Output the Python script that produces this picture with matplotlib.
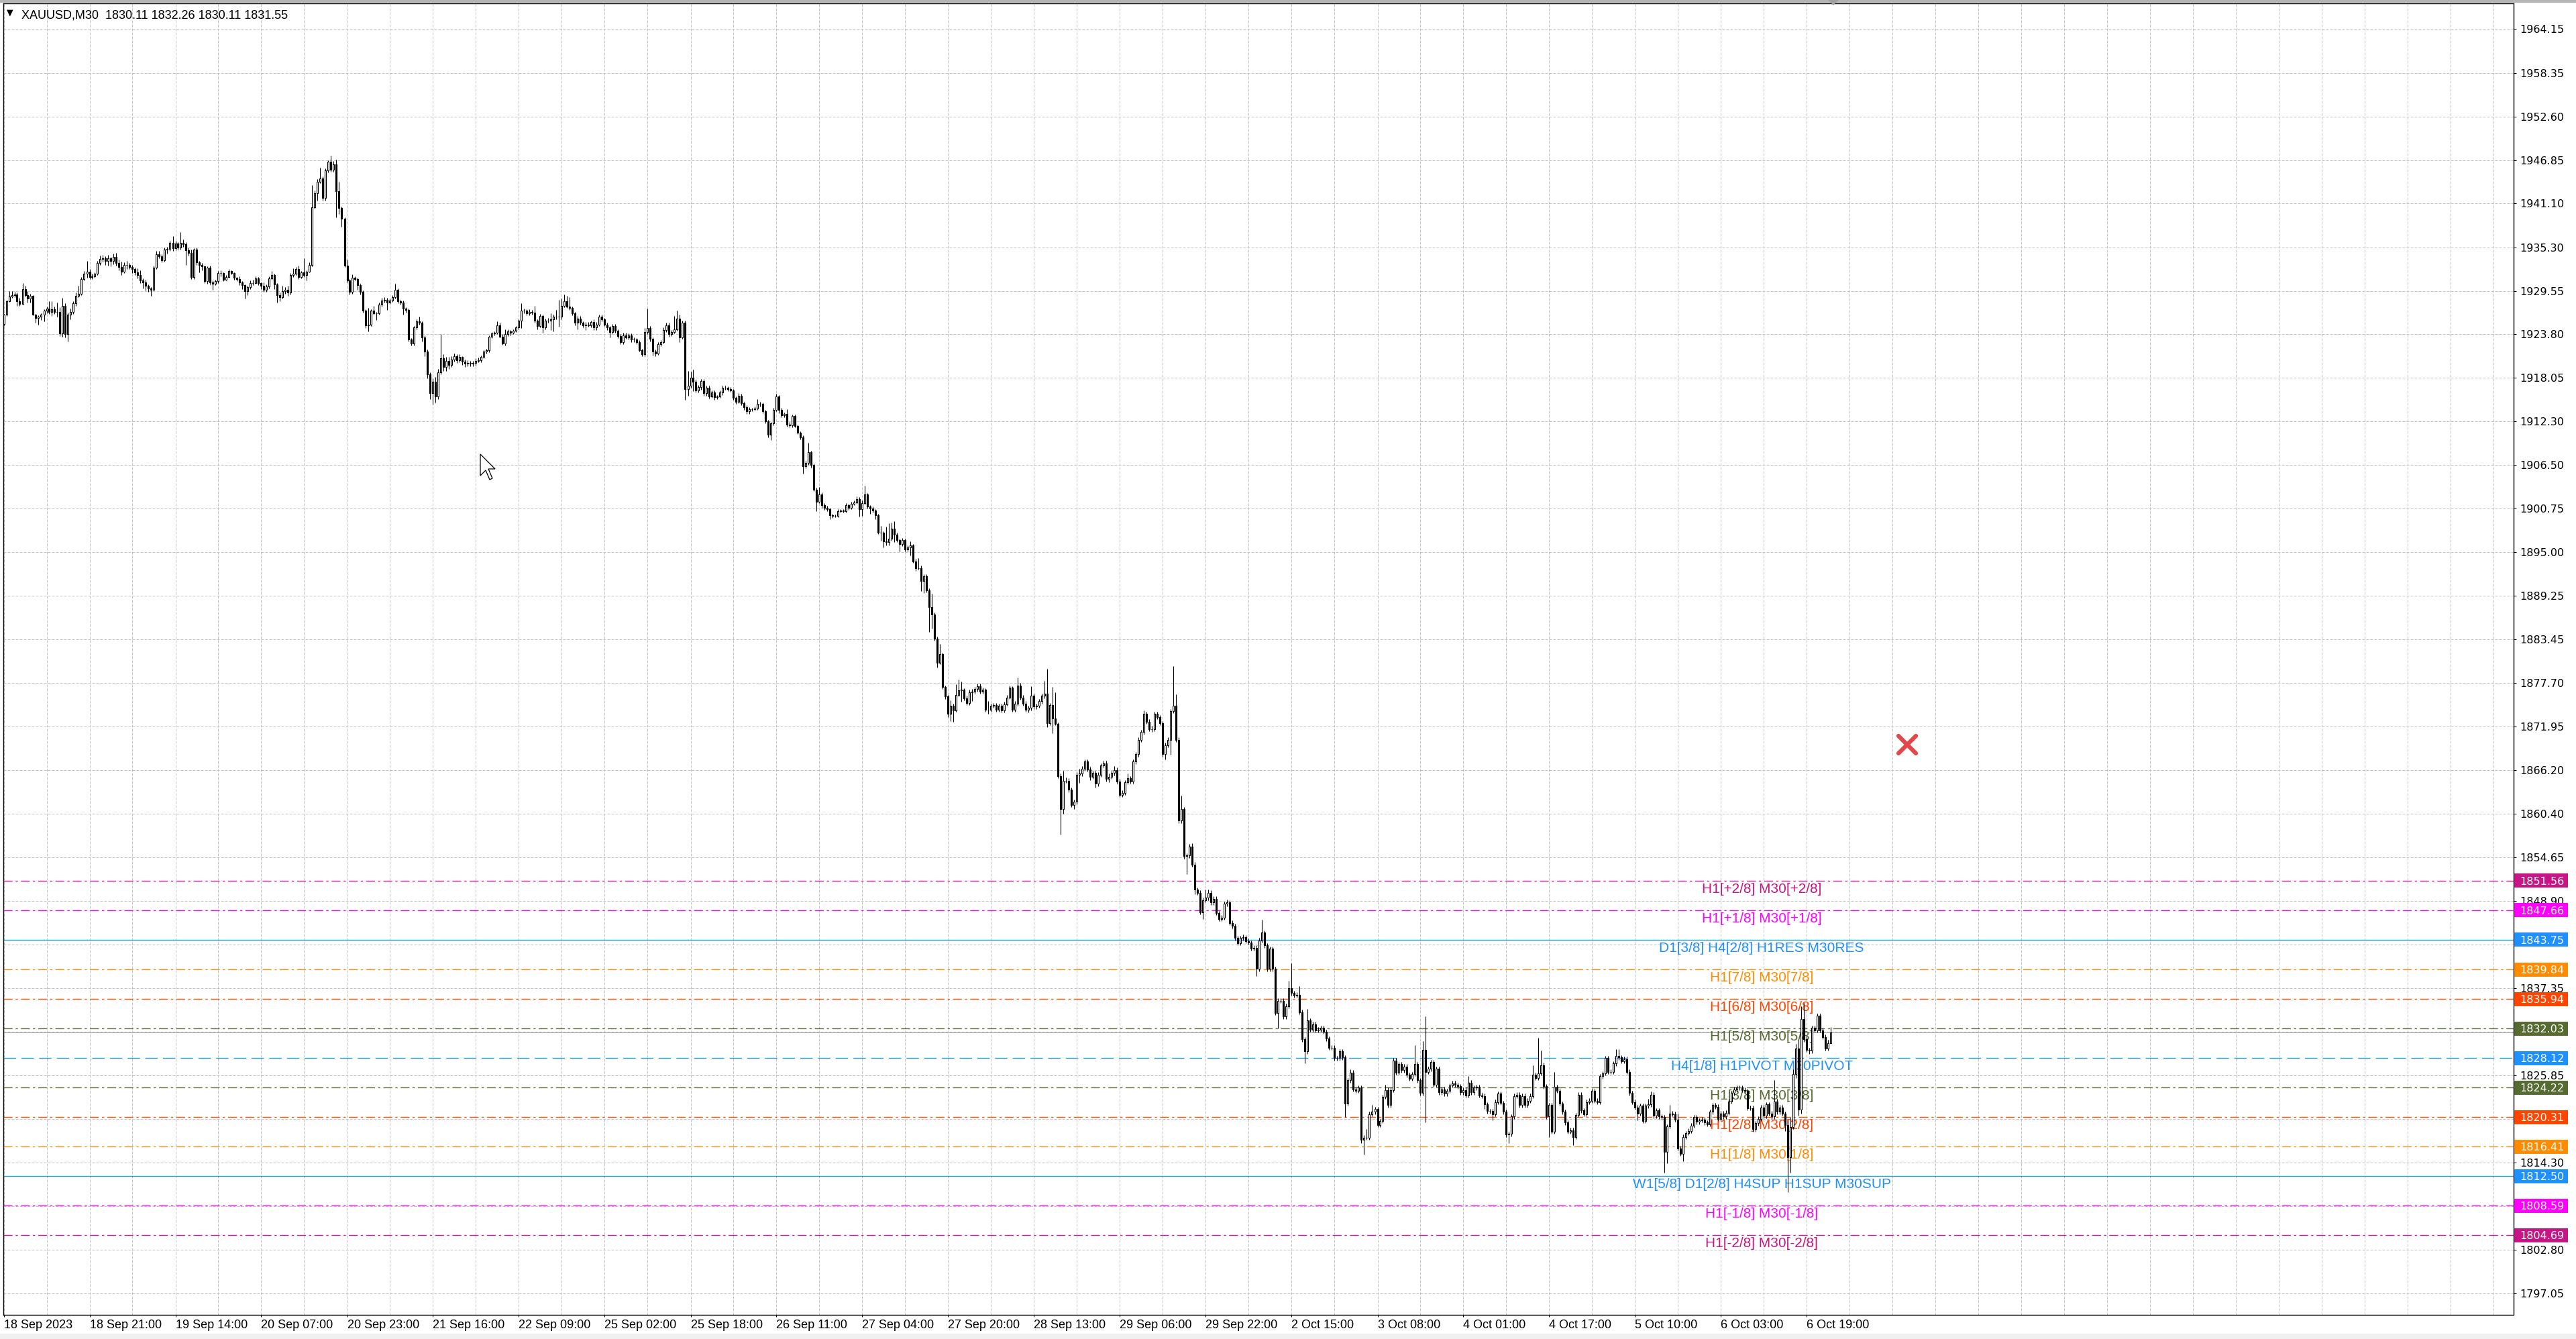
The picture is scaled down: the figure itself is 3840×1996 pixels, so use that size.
import matplotlib
matplotlib.use("Agg")
import matplotlib.pyplot as plt
import numpy as np
from matplotlib import font_manager
from matplotlib.lines import Line2D
from matplotlib.patches import Polygon, Rectangle
from matplotlib.transforms import IdentityTransform

# XAUUSD M30, 18 Sep - 6 Oct 2023
title = "XAUUSD,M30  1830.11 1832.26 1830.11 1831.55"
first_open = 1925.2
bid = 1831.55

close = [
    1926.4, 1928.2, 1928.8, 1929.0, 1929.1, 1928.2, 1927.8, 1929.8, 1929.0, 1928.5,  # 0
    1928.9, 1926.4, 1926.0, 1926.1, 1926.4, 1926.9, 1927.2, 1926.8, 1927.1, 1926.8,
    1926.8, 1923.9, 1927.6, 1923.8, 1926.4, 1926.8, 1927.9, 1928.9, 1929.2, 1931.1,
    1931.8, 1932.1, 1931.4, 1931.5, 1931.8, 1933.2, 1933.8, 1933.9, 1933.5, 1933.9,
    1933.5, 1934.0, 1933.2, 1932.7, 1932.1, 1933.0, 1933.0, 1932.7, 1932.4, 1932.0,
    1931.6, 1930.9, 1930.7, 1930.2, 1929.9, 1929.7, 1932.6, 1934.4, 1934.1, 1933.6,  # 50
    1935.0, 1935.1, 1935.9, 1935.2, 1935.8, 1935.3, 1935.9, 1935.7, 1934.9, 1934.6,
    1931.4, 1935.0, 1933.3, 1933.0, 1932.8, 1930.8, 1932.6, 1930.7, 1930.5, 1930.8,
    1931.9, 1931.9, 1931.0, 1931.4, 1932.2, 1931.9, 1931.3, 1931.1, 1930.7, 1930.3,
    1929.5, 1930.0, 1930.6, 1930.6, 1931.2, 1930.6, 1930.2, 1929.7, 1930.1, 1931.2,
    1931.6, 1930.4, 1929.0, 1928.7, 1929.5, 1929.7, 1929.3, 1931.6, 1931.8, 1932.4,  # 100
    1931.4, 1932.0, 1931.6, 1932.1, 1933.0, 1940.6, 1942.5, 1944.0, 1944.4, 1941.8,
    1945.5, 1946.6, 1945.6, 1946.3, 1942.7, 1940.5, 1939.1, 1932.9, 1930.9, 1929.4,
    1931.3, 1931.1, 1930.3, 1929.4, 1926.9, 1925.0, 1925.1, 1926.9, 1926.6, 1926.6,
    1927.7, 1928.3, 1928.4, 1928.0, 1928.3, 1928.7, 1929.7, 1928.2, 1928.0, 1927.2,
    1927.0, 1923.1, 1922.6, 1924.7, 1925.5, 1925.3, 1923.4, 1921.5, 1918.5, 1916.0,  # 150
    1917.5, 1915.6, 1918.8, 1920.6, 1919.5, 1920.3, 1919.8, 1920.5, 1920.9, 1920.4,
    1920.8, 1920.2, 1919.9, 1920.0, 1919.9, 1920.0, 1920.3, 1920.4, 1920.8, 1921.5,
    1921.7, 1923.5, 1923.9, 1924.0, 1925.0, 1923.5, 1922.6, 1923.8, 1924.2, 1924.0,
    1924.3, 1924.7, 1925.6, 1926.9, 1926.9, 1926.6, 1926.8, 1926.7, 1925.6, 1924.9,
    1926.2, 1924.7, 1925.6, 1925.6, 1925.8, 1926.1, 1926.1, 1926.1, 1927.6, 1928.2,  # 200
    1927.5, 1927.3, 1926.6, 1925.3, 1925.9, 1925.3, 1925.0, 1925.1, 1925.0, 1925.4,
    1924.7, 1925.1, 1926.1, 1925.8, 1925.1, 1924.7, 1924.1, 1924.9, 1924.3, 1923.6,
    1922.8, 1923.7, 1923.4, 1923.7, 1923.1, 1923.1, 1922.8, 1921.7, 1921.2, 1924.1,
    1924.6, 1923.2, 1921.5, 1921.3, 1922.5, 1922.8, 1924.4, 1925.0, 1923.8, 1924.1,
    1924.5, 1925.9, 1923.4, 1925.3, 1916.6, 1917.0, 1918.1, 1917.5, 1916.4, 1916.8,  # 250
    1917.6, 1916.0, 1916.7, 1915.6, 1916.1, 1915.5, 1915.6, 1916.1, 1916.7, 1916.7,
    1916.6, 1916.4, 1915.4, 1914.9, 1915.7, 1914.7, 1914.2, 1913.6, 1913.9, 1913.9,
    1914.0, 1914.6, 1914.6, 1913.6, 1912.3, 1910.5, 1912.0, 1913.8, 1915.6, 1913.8,
    1913.1, 1913.3, 1911.9, 1911.8, 1913.0, 1911.7, 1910.8, 1910.2, 1906.4, 1906.8,
    1908.2, 1906.5, 1903.3, 1901.7, 1902.6, 1901.2, 1900.9, 1900.7, 1899.9, 1899.8,  # 300
    1899.8, 1900.4, 1900.5, 1900.4, 1901.2, 1900.9, 1901.4, 1901.6, 1902.0, 1900.7,
    1901.5, 1902.6, 1901.0, 1900.8, 1900.5, 1899.9, 1897.6, 1897.6, 1896.4, 1896.3,
    1896.8, 1898.1, 1897.3, 1896.6, 1896.1, 1896.6, 1895.4, 1895.6, 1895.9, 1893.8,
    1892.9, 1892.9, 1891.2, 1891.8, 1890.0, 1887.7, 1886.8, 1883.6, 1880.4, 1881.5,
    1877.2, 1875.9, 1873.6, 1874.7, 1874.1, 1876.1, 1876.7, 1876.8, 1875.7, 1875.1,  # 350
    1876.5, 1876.6, 1876.9, 1877.3, 1876.6, 1876.8, 1874.2, 1874.2, 1874.7, 1874.8,
    1874.2, 1874.7, 1874.1, 1874.9, 1875.8, 1877.1, 1874.2, 1875.0, 1877.4, 1875.8,
    1875.0, 1874.2, 1874.4, 1876.0, 1874.6, 1874.7, 1875.3, 1876.0, 1876.3, 1872.4,
    1874.8, 1873.0, 1872.3, 1865.4, 1861.0, 1864.8, 1864.8, 1863.6, 1861.6, 1862.0,
    1865.6, 1865.7, 1866.4, 1867.3, 1866.3, 1865.3, 1865.8, 1864.4, 1865.6, 1866.8,  # 400
    1867.1, 1865.0, 1865.3, 1865.8, 1866.2, 1864.7, 1862.9, 1863.2, 1864.6, 1865.1,
    1864.7, 1867.3, 1868.3, 1870.2, 1871.2, 1873.6, 1872.6, 1871.6, 1871.6, 1873.6,
    1873.2, 1872.4, 1868.3, 1869.5, 1870.2, 1874.0, 1874.7, 1870.2, 1859.5, 1861.0,
    1854.8, 1854.9, 1856.1, 1853.7, 1850.4, 1850.0, 1847.4, 1849.0, 1849.3, 1850.0,
    1848.7, 1849.2, 1847.3, 1846.5, 1846.7, 1848.5, 1848.7, 1846.0, 1845.6, 1844.0,  # 450
    1843.3, 1844.0, 1844.1, 1843.6, 1843.4, 1842.6, 1842.7, 1839.9, 1843.7, 1844.7,
    1843.0, 1839.9, 1842.6, 1839.9, 1834.1, 1835.7, 1835.7, 1833.6, 1835.0, 1837.4,
    1836.7, 1836.4, 1836.5, 1834.2, 1830.6, 1829.0, 1833.1, 1831.9, 1832.6, 1831.8,
    1831.9, 1832.1, 1831.6, 1830.7, 1829.5, 1829.5, 1828.1, 1828.1, 1829.0, 1828.2,
    1822.1, 1825.2, 1826.2, 1824.0, 1823.8, 1824.2, 1817.3, 1817.6, 1817.6, 1820.7,  # 500
    1821.0, 1821.4, 1819.3, 1819.8, 1823.0, 1823.9, 1821.9, 1823.9, 1827.8, 1826.2,
    1827.3, 1826.5, 1827.0, 1825.9, 1825.4, 1826.0, 1827.3, 1825.2, 1823.5, 1829.2,
    1826.3, 1826.7, 1827.6, 1824.6, 1826.7, 1823.6, 1824.0, 1823.4, 1823.8, 1824.5,
    1824.8, 1824.6, 1824.4, 1823.6, 1823.9, 1823.2, 1824.9, 1823.6, 1824.2, 1824.3,
    1823.2, 1823.1, 1822.0, 1821.1, 1821.1, 1820.7, 1822.3, 1823.4, 1822.2, 1821.0,  # 550
    1818.0, 1818.1, 1820.4, 1823.1, 1823.3, 1821.9, 1823.1, 1821.9, 1822.5, 1823.1,
    1825.9, 1825.5, 1826.1, 1827.2, 1824.4, 1820.4, 1821.9, 1818.4, 1824.3, 1823.8,
    1822.1, 1821.0, 1819.6, 1818.4, 1818.6, 1817.7, 1820.6, 1823.3, 1821.2, 1820.7,
    1822.3, 1822.5, 1823.8, 1822.5, 1822.3, 1825.7, 1826.1, 1828.1, 1826.3, 1826.3,
    1827.4, 1828.4, 1828.2, 1827.7, 1828.0, 1826.3, 1823.5, 1822.3, 1821.6, 1820.8,  # 600
    1821.8, 1819.8, 1821.8, 1822.0, 1823.3, 1820.5, 1821.2, 1820.4, 1820.3, 1815.7,
    1819.1, 1820.8, 1820.7, 1820.0, 1816.2, 1815.5, 1817.7, 1818.2, 1818.5, 1819.2,
    1820.3, 1819.7, 1819.9, 1820.0, 1819.6, 1819.4, 1821.0, 1821.9, 1821.7, 1820.1,
    1820.8, 1820.4, 1820.9, 1822.4, 1823.5, 1824.0, 1824.2, 1824.2, 1823.9, 1823.8,
    1821.5, 1821.5, 1818.7, 1819.5, 1820.1, 1821.6, 1820.5, 1822.0, 1820.8, 1820.4,  # 650
    1822.4, 1821.0, 1821.6, 1820.8, 1819.3, 1815.0, 1819.0, 1826.0, 1829.4, 1821.3,
    1833.3, 1830.6, 1829.2, 1829.1, 1832.1, 1831.8, 1833.7, 1831.8, 1830.9, 1829.4,
    1830.11, 1831.55,
]

# wick length above the body / below the body, in dollars
wick_up = [
    .1, .2, .7, .5, .3, .2, .4, .8, .4, .5,  .3, .1, .1, .2, .2, .2, .3, 1.0, 1.1, .4,
    1.2, .6, 1.0, .3, .3, .4, .3, .4, 1.0, .3,  .4, 1.4, .3, .3, .2, .3, .4, .4, .2, .4,
    .1, .5, .6, .5, .7, .3, .5, .2, .3, .2,  .5, .7, .3, .3, .2, .1, .3, .4, .4, .3,
    .3, .3, .3, .9, .4, .2, 1.4, .4, .3, .4,  .4, .2, .3, .2, .2, .1, .2, .3, .2, .2,
    .3, .4, .1, .2, .2, .1, .1, .1, .4, .1,  .1, .2, .3, .4, .3, .2, .1, .5, .3, .3,
    .6, .2, .2, .3, .7, .3, .5, .3, .7, .3,  .5, .2, 1.9, .2, .3, 2.9, .3, .3, 1.4, .3,
    .2, .2, .8, .4, .6, 1.3, .2, .2, .8, .2,  .4, .2, .2, .2, .2, .2, 2.2, .2, .7, .2,
    .3, .3, .3, .2, .2, .3, .8, .2, .2, .3,  .2, .2, .2, .2, .3, .6, .2, .3, .3, .3,
    .5, .7, .4, 3.2, .6, .5, .5, .4, .4, .3,  .4, .1, .3, .4, .3, .3, .3, .3, .2, .2,
    .2, .2, .2, .2, .5, .3, .3, .7, .3, .2,  .2, .2, .2, 1.0, .3, .2, .3, .2, .9, .2,
    .3, .2, .3, .4, .8, .3, .9, 2.3, .9, .9,  .7, 1.2, .2, .2, .3, .3, .2, .3, .3, .2,
    .4, .3, .3, .3, .2, .2, .2, .3, .3, .2,  .2, .3, .3, .2, .2, .3, .2, .2, .2, .5,
    2.6, .3, .2, .3, .3, .2, .3, .3, .3, .3,  1.7, 1.0, .5, .3, .3, 2.0, .8, 1.0, .3, .3,
    .3, .3, .3, .3, .3, .3, .2, .3, .3, .3,  .2, .2, .2, .2, .3, .2, .2, .2, .3, .2,
    .3, .6, .3, .2, .2, .2, .2, .3, .3, .2,  .3, .2, .6, .3, .2, .2, .2, .2, .2, .3,
    1.3, .2, .2, .2, 1.0, .3, .3, .2, .2, .2,  .2, .3, .2, .2, .3, .2, .3, .2, .4, .3,
    .3, 1.2, .2, .2, .2, .2, .2, .9, .2, 2.0,  2.0, .8, 1.0, .3, .2, .3, .2, .3, .5, .2,
    .3, 1.3, .3, .3, .3, .2, 1.8, .2, .2, 1.4,  .2, .2, .2, .7, .3, 1.4, 1.5, 1.1, .2, .3,
    .3, .3, .3, .3, .3, .3, .2, 1.1, .3, .3,  .3, .3, .3, .3, .3, .3, .2, .3, 1.0, .3,
    .3, .3, .3, 1.3, .3, .3, .3, .3, 1.7, 3.3,  .3, 2.4, 3.5, .2, .3, 1.3, .4, .3, .3, .3,
    .3, .7, .3, .3, .3, .3, .3, .3, .3, .3,  .3, .3, .4, .3, .5, .3, .3, .3, .3, .6,
    .3, .3, .3, .3, .3, .5, .3, .3, .4, .3,  .3, .3, .3, .3, .3, .3, 5.2, 1.5, .3, 1.8,
    .3, .3, .3, .4, .3, .3, .3, .3, 1.1, .4,  .3, .3, .3, .3, .3, .3, .4, .3, .3, .3,
    .3, .3, .4, .3, .3, .3, .3, .3, .3, 1.7,  .3, .3, .3, .3, .3, .3, .3, .3, .3, .9,
    3.2, .3, .3, 1.1, .3, .3, 1.5, .3, .3, .3,  .3, .3, .3, .3, .3, .3, .3, .3, .3, .3,
    .3, .3, .4, .3, .3, .3, .3, .3, 1.1, .3,  .9, .3, .3, .3, .3, .7, .3, .3, .3, .3,
    .3, .3, .3, .3, .3, .3, 2.5, .3, .3, 1.2,  4.4, .3, .3, .3, .3, .3, .3, .3, .3, .3,
    .3, .3, .3, .3, .3, .3, .8, .3, .3, .3,  .3, .3, .3, .3, .3, .3, .3, .3, .3, .3,
    .3, .3, .3, .3, .3, .3, .3, .3, .3, .3,  1.3, .3, 4.7, 1.9, .3, .3, .3, .3, 2.0, .3,
    .3, .3, .3, .3, .3, .3, .3, .3, .3, .3,  .3, .3, .3, .3, .3, .3, .3, .3, .3, .3,
    .3, .9, .9, .3, .3, .3, .3, .3, .3, .3,  .3, .3, .3, .7, .4, .3, .3, .3, .3, .3,
    .3, 1.1, .3, .3, .8, .3, .3, .3, .3, .3,  .3, .3, .3, .3, .3, .3, .3, .3, .3, .3,
    .3, .3, .3, .3, .3, .3, .3, .3, .3, .3,  .3, .3, .3, .3, .3, .3, .3, .3, .3, .3,
    2.8, .3, .3, .3, .2, .7, 1.3, .6, .6, 1.1,  1.7, 2.1, .5, .3, .3, .3, .3, .3, .3, .3,
    .4, .71,
]

wick_dn = [
    .2, .2, .1, .2, .3, .6, .2, .1, .2, .5,  .5, .1, .7, .9, .4, .9, .3, .3, .6, .3,
    .7, .3, .4, .4, .9, .6, .3, .3, .2, .2,  .2, .5, .3, .3, .2, .2, .2, .4, .5, .6,
    .7, .4, .3, .4, .5, .2, .6, .3, .5, .4,  .4, .3, .8, .6, .5, .8, .1, .2, .2, .3,
    .2, .5, .3, .4, .3, .3, .3, .3, 1.9, .4,  .3, .3, .3, 1.0, .5, .2, .3, .3, .8, .2,
    .2, .4, .2, .1, .1, .2, .3, .3, .4, .5,  1.0, .5, .2, .3, .1, .3, .4, .3, .3, .2,
    .2, .6, 1.0, .5, .2, .3, .4, .2, .2, .2,  .3, .2, .2, .7, .1, .2, .2, 1.0, .2, .3,
    .3, .3, .3, .3, 3.4, .8, 1.1, .2, .2, .3,  .2, .2, .6, .3, .2, .4, .8, .2, .2, .9,
    .2, .2, .3, 1.0, .2, .2, .2, .3, .3, .8,  .3, .2, .3, .3, .2, .2, .5, .6, .5, .8,
    1.5, .8, .4, .3, .5, .5, .6, .3, .3, .4,  .3, .4, .4, .3, .3, .3, .3, .2, .3, .2,
    .2, .3, .2, .2, .2, .1, .2, .3, .2, .3,  .2, .2, .2, 1.0, .3, .3, .3, .3, .3, .4,
    .2, .7, .2, .3, 1.2, 1.6, .3, 1.3, .3, .2,  .2, .3, .3, .3, .8, .2, .3, .6, .2, .3,
    .3, .3, .2, .3, .2, .3, .7, .2, .3, .3,  .3, .3, .2, .3, .3, .3, .3, .2, .3, .3,
    .3, .3, .5, .4, .2, .3, .2, .3, .3, .2,  .2, .2, .6, .2, 1.5, .9, .3, 1.2, .3, .3,
    .3, .3, .3, .3, .2, .4, .3, .2, .3, .2,  .3, .2, .3, .3, .2, .3, .4, .3, .3, .3,
    .2, .2, .3, .2, .3, .3, .7, .2, .2, .4,  .3, .3, .3, .3, .3, .2, .2, .3, 1.0, .3,
    .3, .3, .2, 1.3, .2, .3, .3, .3, .5, .3,  .2, .2, .2, .2, .2, .3, .2, .2, .2, 1.0,
    .9, .2, .2, .7, .3, .5, .2, 1.1, .8, .4,  .4, .3, 1.0, .3, 1.0, .3, .3, .3, 1.0, .2,
    .4, .2, 1.3, 1.6, .3, 3.2, 1.9, .3, .6, .2,  .3, .3, .4, .9, 1.5, .2, .2, 1.5, .3, .3,
    .3, 1.2, .3, .3, .3, .3, .3, .6, .3, .3,  .3, .3, .3, .3, .2, .2, .3, .3, .3, .3,
    .3, .3, .4, .3, .3, .3, .3, .3, .3, .5,  .3, 1.9, .2, .3, 3.3, .6, .3, .3, .3, .6,
    .3, 1.1, .3, .3, .3, .4, .3, .5, .3, .3,  .3, .3, .4, .3, .3, .3, .3, .3, .3, .3,
    .3, .3, .3, .3, .3, .3, .3, .3, .4, .3,  .3, .3, .3, .7, .3, 2.0, .3, .3, .3, .3,
    .3, 2.4, .3, .3, .6, .3, .3, .9, .3, .3,  .3, .3, .3, .3, .3, .3, .3, .3, .3, .3,
    .3, .3, .3, .3, .3, .3, .3, .9, .3, .3,  .3, .3, .3, .3, .3, 2.1, .3, .3, .3, .3,
    .3, .3, .3, .3, .3, 1.6, .3, .3, .3, .3,  .3, .3, .3, .3, .3, .3, .3, .3, .3, .3,
    1.8, .3, .3, .3, .3, .3, .4, 1.9, .3, .3,  .3, .3, .3, .3, .3, .3, .3, .3, .3, .3,
    .3, .3, .3, .3, .3, .3, .3, .3, .3, .3,  6.7, .3, .3, .3, .3, .3, .3, .3, .3, .3,
    .3, .3, .3, .3, .3, .3, .3, .3, .3, .3,  .3, .3, .6, .3, .3, .8, .3, .3, .3, .3,
    .3, 1.1, .3, .3, .3, .3, .3, .3, .3, .3,  .3, .3, .3, .3, .3, .3, 2.7, .3, .3, .3,
    .3, .3, .3, .3, .3, 1.1, .3, .3, .3, .3,  .3, .3, .3, .3, .3, .3, .3, .3, .3, .3,
    .3, .3, .3, .3, .3, .3, .3, .3, .3, .9,  .3, .3, .3, .3, .3, .3, .3, .3, .3, 2.7,
    1.5, .3, .3, .3, .3, .3, 1.0, .3, .3, .3,  .3, .3, .3, .3, .3, .3, .3, .3, .3, .3,
    .3, .3, .3, .3, .3, .3, .3, .3, .3, .3,  .3, .3, .3, .3, .3, .3, .3, .3, .3, .3,
    .3, .3, .3, .3, .8, 4.6, 2.0, .3, .5, .8,  .5, .3, .3, .4, .3, .3, .3, .3, .3, .3,
    .3, 0.0,
]

level_price = [1851.56, 1847.66, 1843.75, 1839.84, 1835.94, 1832.03, 1828.12,
               1824.22, 1820.31, 1816.41, 1812.50, 1808.59, 1804.69]
level_text = ["H1[+2/8] M30[+2/8]", "H1[+1/8] M30[+1/8]",
              "D1[3/8] H4[2/8] H1RES M30RES", "H1[7/8] M30[7/8]",
              "H1[6/8] M30[6/8]", "H1[5/8] M30[5/8]",
              "H4[1/8] H1PIVOT M30PIVOT", "H1[3/8] M30[3/8]",
              "H1[2/8] M30[2/8]", "H1[1/8] M30[1/8]",
              "W1[5/8] D1[2/8] H4SUP H1SUP M30SUP",
              "H1[-1/8] M30[-1/8]", "H1[-2/8] M30[-2/8]"]
level_color = ["#C71585", "#FF00FF", "#1E90FF", "#FF8C00", "#FF4500", "#556B2F",
               "#1E90FF", "#556B2F", "#FF4500", "#FF8C00", "#1E90FF", "#FF00FF",
               "#C71585"]
level_style = ["dashdot", "dashdot", "solid", "dashdot", "dashdot", "dashdot",
               "dash", "dashdot", "dashdot", "dashdot", "solid", "dashdot",
               "dashdot"]

ytick_values = [1964.15, 1958.35, 1952.60, 1946.85, 1941.10, 1935.30, 1929.55,
                1923.80, 1918.05, 1912.30, 1906.50, 1900.75, 1895.00, 1889.25,
                1883.45, 1877.70, 1871.95, 1866.20, 1860.40, 1854.65, 1848.90,
                1843.10, 1837.35, 1831.60, 1825.85, 1820.10, 1814.30, 1808.55,
                1802.80, 1797.05]
ytick_hidden = [1843.10, 1831.60, 1820.10, 1808.55]  # covered by level price boxes

xtick_labels = ["18 Sep 2023", "18 Sep 21:00", "19 Sep 14:00", "20 Sep 07:00",
                "20 Sep 23:00", "21 Sep 16:00", "22 Sep 09:00", "25 Sep 02:00",
                "25 Sep 18:00", "26 Sep 11:00", "27 Sep 04:00", "27 Sep 20:00",
                "28 Sep 13:00", "29 Sep 06:00", "29 Sep 22:00", "2 Oct 15:00",
                "3 Oct 08:00", "4 Oct 01:00", "4 Oct 17:00", "5 Oct 10:00",
                "6 Oct 03:00", "6 Oct 19:00"]

# fonts
installed = {f.name for f in font_manager.fontManager.ttflist}
if "Liberation Sans Narrow" in installed:
    narrow, narrow_size = "Liberation Sans Narrow", 16
else:
    narrow, narrow_size = "Liberation Sans", 13
label_font = "Liberation Sans" if "Liberation Sans" in installed else "DejaVu Sans"

W, H = 3840, 1996
fig = plt.figure(figsize=(W / 100, H / 100), dpi=100)
fig.patch.set_facecolor("white")
ax = fig.add_axes([4.5 / W, 36 / H, 3742 / W, 1955 / H])
ax.set_facecolor("white")

# candles
close = np.array(close)
opens = np.concatenate([[first_open], close[:-1]])
high = np.maximum(opens, close) + np.array(wick_up)
low = np.minimum(opens, close) - np.array(wick_dn)
x = np.arange(len(close))
bull = close >= opens

ax.vlines(x, low, high, colors="black", linewidth=0.8, zorder=4)
ax.bar(x, np.abs(close - opens), bottom=np.minimum(opens, close), width=0.5,
       color=np.where(bull, "white", "black"), edgecolor="black",
       linewidth=0.8, zorder=5)

ax.set_xlim(-0.25, 935.25)
ax.set_ylim(1794.17, 1967.56)

# grid
grid_kw = dict(color="#C4C4C4", linewidth=0.72, linestyle=(0, (4, 2)), zorder=1)
for v in ytick_values:
    ax.axhline(v, **grid_kw)
for b in range(0, 936, 16):
    ax.axvline(b, **grid_kw)

# Murrey levels
dash_map = {"dashdot": (0, (10, 3.5, 2.5, 3.5)), "dash": (0, (14, 6)), "solid": "-"}
ytrans = ax.get_yaxis_transform()
for p, t, c, s in zip(level_price, level_text, level_color, level_style):
    ax.axhline(p, color=c, linewidth=0.95, linestyle=dash_map[s], zorder=2)
    ax.annotate(t, xy=(0.7006, p), xycoords=ytrans, xytext=(0, -2.2),
                textcoords="offset points", ha="center", va="top", color=c,
                fontsize=15, family=label_font, zorder=3)
    ax.add_patch(Rectangle((1.0004, p - 0.93), 0.02138, 1.86, transform=ytrans,
                           facecolor=c, edgecolor="none", clip_on=False, zorder=6))
    ax.text(1.00272, p, f"{p:.2f}", transform=ytrans, color="white",
            fontsize=11.5, family="DejaVu Sans", ha="left",
            va="center_baseline", clip_on=False, zorder=7)

ax.axhline(bid, color="#A8A8A8", linewidth=0.8, zorder=2)

# axes
for sp in ax.spines.values():
    sp.set_color("black")
    sp.set_linewidth(1.0)
ax.yaxis.tick_right()
ax.set_yticks(ytick_values)
ax.set_yticklabels(["" if v in ytick_hidden else f"{v:.2f}" for v in ytick_values])
ax.tick_params(axis="y", length=2.9, width=0.72, pad=4.3, labelsize=11.5)
ax.set_xticks(range(0, 32 * len(xtick_labels), 32))
ax.set_xticklabels(xtick_labels, ha="left", fontsize=narrow_size, family=narrow)
ax.tick_params(axis="x", length=2.2, width=0.72, pad=2.6)

# window decorations
px = IdentityTransform()
fig.add_artist(Rectangle((0, H - 4), W, 4, transform=px, facecolor="#B4B4B4",
                         edgecolor="none"))
fig.add_artist(Rectangle((0, 0), W, 8, transform=px, facecolor="#F0F0F0",
                         edgecolor="none"))
fig.add_artist(Polygon([(2725, H), (2741, H), (2733, H - 8)], closed=True,
                       transform=px, facecolor="#A0A0A0", edgecolor="none"))

fig.text(10 / W, 1 - 19 / H, "\u25BC", fontsize=9, family="DejaVu Sans",
         va="center", ha="left")
fig.text(32 / W, 1 - 27 / H, title, fontsize=narrow_size, family=narrow,
         va="baseline", ha="left")

# mouse pointer
tx, ty = 716, H - 677
arrow = [(0, 0), (0, -32), (8, -24), (14, -38), (18, -36), (12, -22), (22, -22)]
fig.add_artist(Polygon([(tx + a, ty + b) for a, b in arrow], closed=True,
                       transform=px, facecolor="white", edgecolor="black",
                       linewidth=0.9))

# red delete cross
cx, cy, r = 2843, H - 1110, 13
for dx in (-1, 1):
    fig.add_artist(Line2D([cx - r, cx + r], [cy - dx * r, cy + dx * r],
                          transform=px, color="#E2474B", linewidth=4.5,
                          solid_capstyle="round"))

fig.savefig("out.png", dpi=100, facecolor="white")
